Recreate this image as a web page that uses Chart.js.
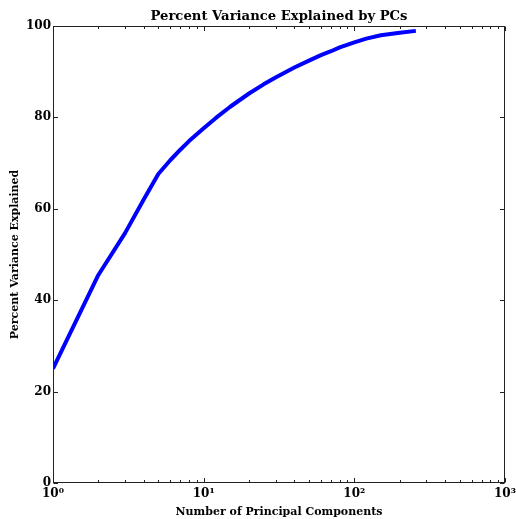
<!DOCTYPE html>
<html><head><meta charset="utf-8">
<script src="https://cdn.jsdelivr.net/npm/chart.js@4.4.0/dist/chart.umd.min.js"></script>
<style>html,body{margin:0;padding:0;background:#fff;overflow:hidden}</style>
</head><body>
<canvas id="c" width="516" height="519"></canvas>
<script>
const components = [1,2,3,4,5,6,7,8,9,10,12,15,20,25,30,40,50,60,70,80,100,120,150,200,256];
const variance   = [25.0,45.5,54.6,62.0,67.6,70.6,72.9,74.8,76.3,77.6,79.8,82.3,85.2,87.2,88.7,90.9,92.4,93.6,94.45,95.3,96.4,97.2,97.95,98.5,98.9];
const xMajorTicks = [1,10,100,1000];
const xTickLabels = ['10\u2070','10\u00b9','10\u00b2','10\u00b3'];
const yTicks = [0,20,40,60,80,100];

const FONT = "'DejaVu Serif', serif";
const frameTicks = {
  id: 'frameTicks',
  afterDatasetsDraw(chart) {
    const {ctx, chartArea: a, scales: {x, y}} = chart;
    ctx.save();
    ctx.strokeStyle = '#222';
    ctx.lineWidth = 1;
    const L = Math.round(a.left) + 0.5, R = Math.round(a.right) - 0.5;
    const T = Math.round(a.top) + 0.5, B = Math.round(a.bottom) - 0.5;
    ctx.strokeRect(L, T, R - L, B - T);
    ctx.beginPath();
    const major = 4.5, minor = 2.5;
    xMajorTicks.forEach(v => {
      const px = Math.round(x.getPixelForValue(v)) + 0.5;
      ctx.moveTo(px, B); ctx.lineTo(px, B - major);
      ctx.moveTo(px, T); ctx.lineTo(px, T + major);
    });
    for (let d = 1; d < 1000; d *= 10) {
      for (let m = 2; m <= 9; m++) {
        const px = Math.round(x.getPixelForValue(m * d)) + 0.5;
        ctx.moveTo(px, B); ctx.lineTo(px, B - minor);
        ctx.moveTo(px, T); ctx.lineTo(px, T + minor);
      }
    }
    yTicks.forEach(v => {
      const py = Math.round(y.getPixelForValue(v)) + 0.5;
      ctx.moveTo(L, py); ctx.lineTo(L + major, py);
      ctx.moveTo(R, py); ctx.lineTo(R - major, py);
    });
    ctx.stroke();
    ctx.restore();
  }
};

new Chart(document.getElementById('c'), {
  type: 'line',
  data: {
    datasets: [{
      data: components.map((c, i) => ({x: c, y: variance[i]})),
      borderColor: '#0000ff',
      borderWidth: 4,
      pointRadius: 0,
      tension: 0,
      fill: false,
      borderCapStyle: 'butt',
      borderJoinStyle: 'round'
    }]
  },
  options: {
    responsive: false,
    animation: false,
    devicePixelRatio: 1,
    layout: {padding: {left: 0, right: 11, top: 0, bottom: 0}},
    plugins: {
      legend: {display: false},
      tooltip: {enabled: false},
      title: {
        display: true,
        fullSize: false,
        text: 'Percent Variance Explained by PCs',
        color: '#000',
        font: {family: FONT, size: 13.2, weight: 'bold', lineHeight: 1.2},
        padding: {top: 9, bottom: 1}
      }
    },
    scales: {
      x: {
        type: 'logarithmic',
        min: 1, max: 1000,
        grid: {display: false, drawTicks: false},
        border: {display: false},
        afterBuildTicks: s => { s.ticks = xMajorTicks.map(v => ({value: v})); },
        afterFit: s => { s.height = 36; s.paddingLeft = 0; s.paddingRight = 0; },
        ticks: {
          autoSkip: false, maxRotation: 0, padding: 4,
          color: '#000',
          font: {family: FONT, size: 12, weight: 'bold'},
          callback: (v) => { const i = xMajorTicks.indexOf(v); return i >= 0 ? xTickLabels[i] : ''; }
        },
        title: {
          display: true, text: 'Number of Principal Components', color: '#000',
          font: {family: FONT, size: 11, weight: 'bold', lineHeight: 1.2},
          padding: {top: 0, bottom: 0}
        }
      },
      y: {
        min: 0, max: 100,
        grid: {display: false, drawTicks: false},
        border: {display: false},
        afterBuildTicks: s => { s.ticks = yTicks.map(v => ({value: v})); },
        afterFit: s => { s.width = 53; s.paddingTop = 0; s.paddingBottom = 0; },
        ticks: {
          padding: 2, color: '#000',
          font: {family: FONT, size: 12, weight: 'bold'}
        },
        title: {
          display: true, text: 'Percent Variance Explained', color: '#000',
          font: {family: FONT, size: 11, weight: 'bold', lineHeight: 1.2},
          padding: {top: 9, bottom: 0}
        }
      }
    }
  },
  plugins: [frameTicks]
});
</script>
</body></html>
